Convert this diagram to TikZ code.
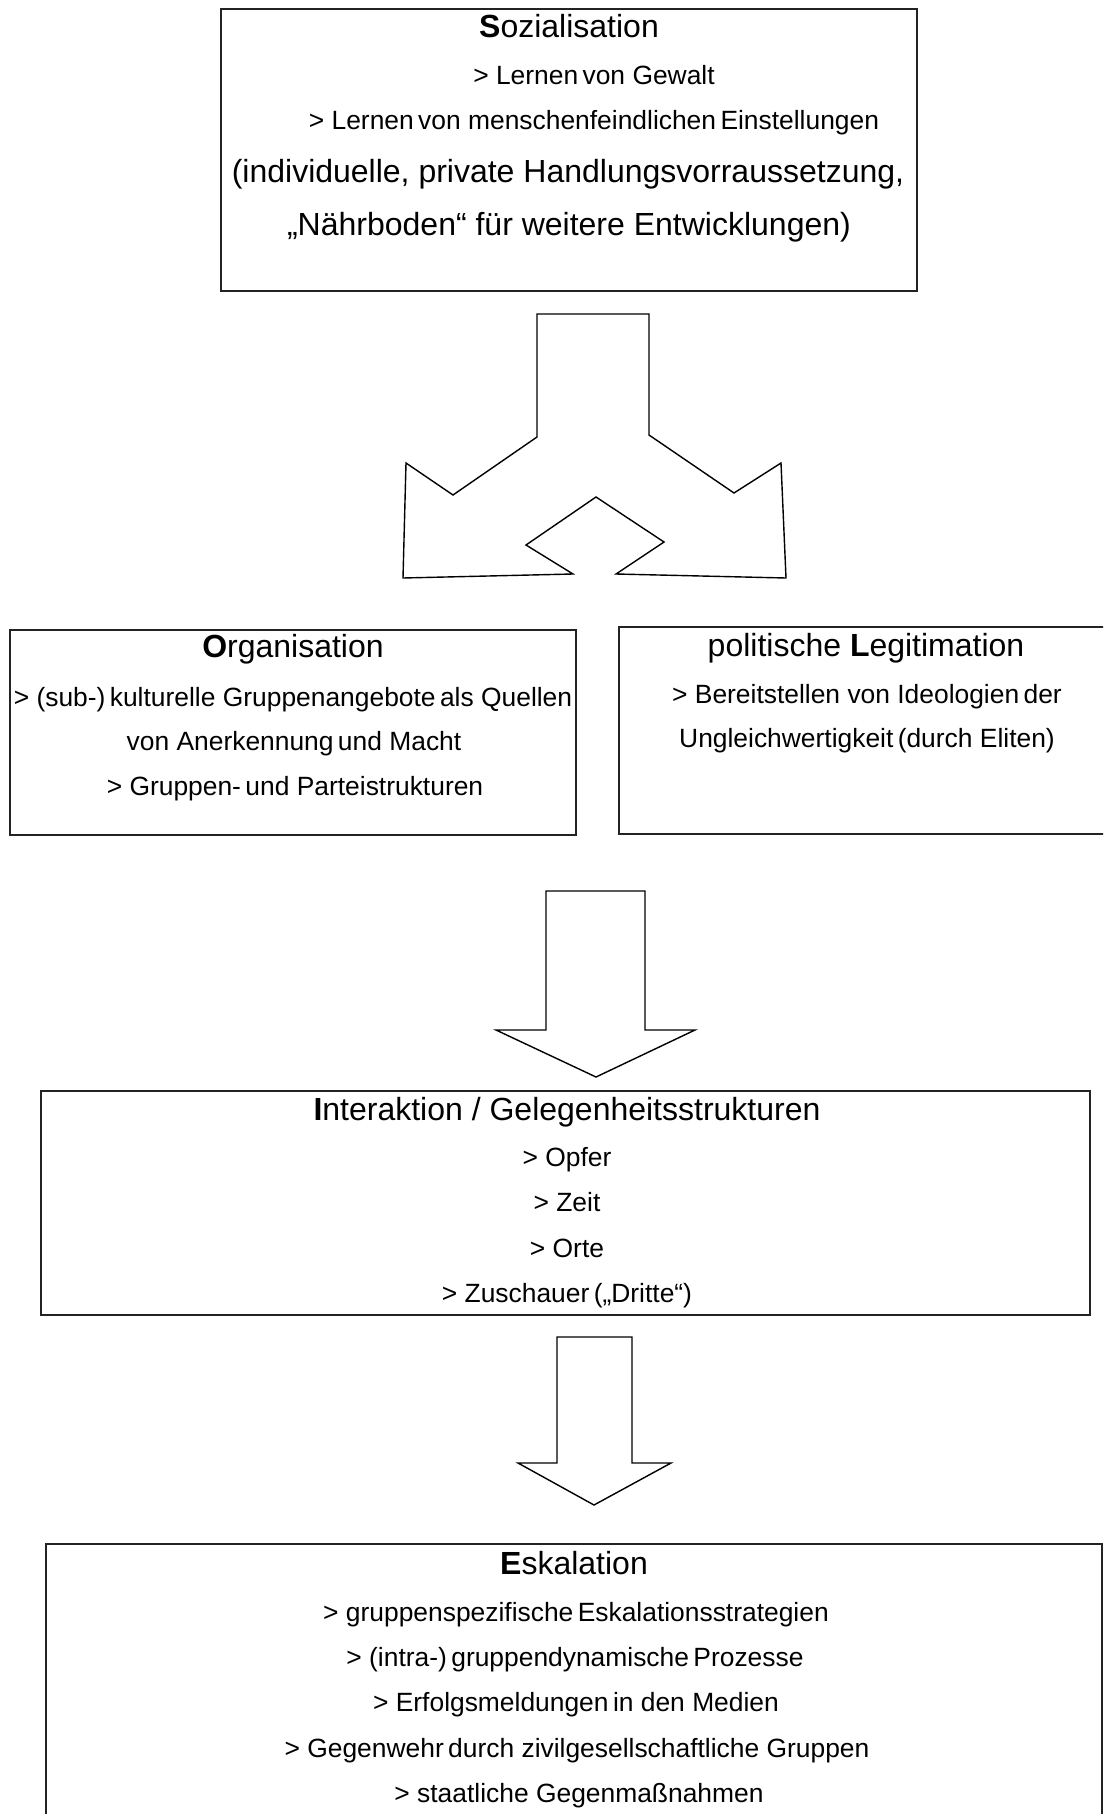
\documentclass[tikz,border=0pt]{standalone}
\usepackage{fontspec}
\setmainfont{Liberation Sans}
\usepackage{tikz}
\usepackage{xcolor}
\definecolor{rand}{RGB}{35, 35, 35}

\tikzset{
  kasten/.style={draw=rand, line width=1.8pt, fill=white, inner sep=0pt},
  pfeil/.style={draw=black, line width=1.4pt, line join=miter, fill=white},
  titel/.style={font=\fontsize{32}{38}\selectfont, text height=23pt, text depth=7pt, inner sep=0pt, yshift=-3.5pt},
  zeile/.style={font=\fontsize{26.4}{32}\selectfont, text height=19pt, text depth=6pt, inner sep=0pt, yshift=-3.5pt},
  gross/.style={font=\fontsize{32}{38}\selectfont, text height=23pt, text depth=7pt, inner sep=0pt, yshift=-3.5pt}
}

\begin{document}
\begin{tikzpicture}[x=1pt, y=-1pt]
  \useasboundingbox (0, 0) rectangle (1103, 1814);
  \clip (0, 0) rectangle (1103, 1814);

  % Kaesten
  \node[kasten, minimum width=696pt, minimum height=282pt] (sozial) at (569, 150) {};
  \node[kasten, minimum width=566pt, minimum height=205pt] (organ) at (293, 732.5) {};
  \node[kasten, minimum width=494pt, minimum height=207pt] (legit) at (866, 730.5) {};
  \node[kasten, minimum width=1049pt, minimum height=224pt] (inter) at (565.5, 1203) {};
  \node[kasten, minimum width=1056pt, minimum height=290pt] (eskal) at (574, 1689) {};

  % Sozialisation
  \node[titel] (sozial-t) at (569, 26) {\textbf{S}ozialisation};
  \node[zeile] (sozial-1) at (594, 75) {> Lernen\,von Gewalt};
  \node[zeile] (sozial-2) at (594, 120) {> Lernen\,von menschenfeindlichen\,Einstellungen};
  \node[gross] (sozial-3) at (568, 171) {(individuelle, private Handlungsvorraussetzung,};
  \node[gross] (sozial-4) at (569, 224) {„Nährboden“ für weitere Entwicklungen)};

  % Verzweigungspfeil
  \draw[pfeil] (537, 314) -- (649, 314) -- (649, 435) -- (734, 493) -- (781, 463)
    -- (786, 578) -- (616, 574) -- (664, 542) -- (596, 497) -- (526, 545)
    -- (573, 574) -- (403, 578) -- (406, 463) -- (453, 495) -- (537, 437) -- cycle;

  % Organisation
  \node[titel] (organ-t) at (293, 646) {\textbf{O}rganisation};
  \node[zeile] (organ-1) at (293, 696) {> (sub-)\,kulturelle Gruppenangebote\,als Quellen};
  \node[zeile] (organ-2) at (294, 740) {von Anerkennung\,und Macht};
  \node[zeile] (organ-3) at (295, 785) {> Gruppen-\,und Parteistrukturen};

  % politische Legitimation
  \node[titel] (legit-t) at (866, 645) {politische \textbf{L}egitimation};
  \node[zeile] (legit-1) at (867, 693) {> Bereitstellen von Ideologien\,der};
  \node[zeile] (legit-2) at (867, 737) {Ungleichwertigkeit\,(durch Eliten)};

  % Pfeil nach unten
  \draw[pfeil] (546, 891) -- (645, 891) -- (645, 1030) -- (695, 1030) -- (596, 1077)
    -- (496, 1030) -- (546, 1030) -- cycle;

  % Interaktion
  \node[titel] (inter-t) at (567, 1109) {\textbf{I}nteraktion / Gelegenheitsstrukturen};
  \node[zeile] (inter-1) at (567, 1156) {> Opfer};
  \node[zeile] (inter-2) at (567, 1201) {> Zeit};
  \node[zeile] (inter-3) at (567, 1247) {> Orte};
  \node[zeile] (inter-4) at (567, 1292) {> Zuschauer\,(„Dritte“)};

  % Pfeil nach unten
  \draw[pfeil] (557, 1337) -- (632, 1337) -- (632, 1463) -- (671, 1463) -- (594, 1505)
    -- (518, 1463) -- (557, 1463) -- cycle;

  % Eskalation
  \node[titel] (eskal-t) at (574, 1563) {\textbf{E}skalation};
  \node[zeile] (eskal-1) at (576, 1611) {> gruppenspezifische\,Eskalationsstrategien};
  \node[zeile] (eskal-2) at (575, 1656) {> (intra-)\,gruppendynamische\,Prozesse};
  \node[zeile] (eskal-3) at (576, 1701) {> Erfolgsmeldungen\,in den Medien};
  \node[zeile] (eskal-4) at (577, 1747) {> Gegenwehr\,durch zivilgesellschaftliche Gruppen};
  \node[zeile] (eskal-5) at (579, 1792) {> staatliche Gegenmaßnahmen};
\end{tikzpicture}
\end{document}
